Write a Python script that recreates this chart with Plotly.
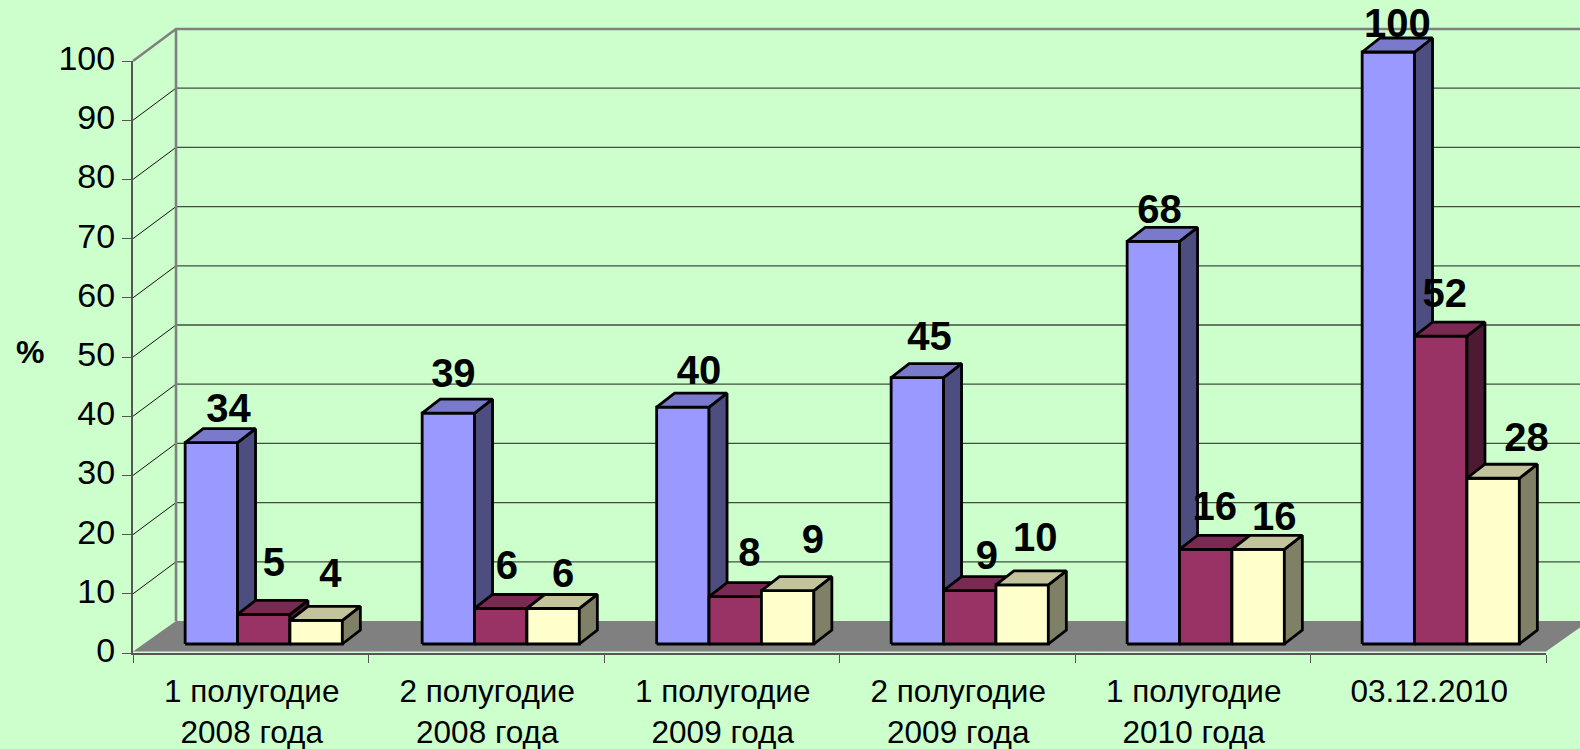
import plotly.graph_objects as go

W, H = 1580, 749
categories = ["1 полугодие<br>2008 года", "2 полугодие<br>2008 года", "1 полугодие<br>2009 года",
              "2 полугодие<br>2009 года", "1 полугодие<br>2010 года", "03.12.2010"]
series_a = [34, 39, 40, 45, 68, 100]
series_b = [5, 6, 8, 9, 16, 52]
series_c = [4, 6, 9, 10, 16, 28]
y_ticks = list(range(0, 101, 10))

# hand-placed label nudges in the reference (px from the top centre of each bar's front face)
label_dx_a = [17, 5, 16, 12, 6, 9]
label_dy_a = [30, 36, 33, 37, 28, 25]
label_dx_b = [10, 6, 14, 17, 9, 4]
label_dy_b = [48, 39, 40, 31, 39, 39]
label_dx_c = [14, 10, 25, 13, 16, 33]
label_dy_c = [43, 31, 47, 43, 29, 37]
group_nudge = [1, 2.5, 1.5, 0.5, 1, 0.5]

X0, X1, Y0, Y100 = 133, 1546, 653, 61
CW = (X1 - X0) / 6
VU = (Y0 - Y100) / 100
def px_x(p): return p / CW
def px_y(p): return p / VU

WALL_X, WALL_Y = px_x(43), px_y(32)
FRONT_X, FRONT_Y = px_x(12), px_y(9)
DEPTH_X, DEPTH_Y = px_x(18), px_y(14)
BAR_W = px_x(52.4)
RIGHT = (W - X0) / CW

BG = "#CCFFCC"
EDGE = 2.8
STYLES = [("#9999FF", "#4D4D80", "#7A7ACC"), ("#993366", "#4D1A33", "#7A2952"), ("#FFFFCC", "#808066", "#C4C49C")]

fig = go.Figure()

def poly(xs, ys, fill, line=None, width=0):
    fig.add_trace(go.Scatter(x=xs, y=ys, xaxis="x2", yaxis="y2", mode="lines", fill="toself" if fill else None,
                             fillcolor=fill, line=dict(color=line or "rgba(0,0,0,0)", width=width),
                             hoverinfo="skip", showlegend=False))

# anchor trace for the real axes
fig.add_trace(go.Bar(x=categories, y=[0] * 6, showlegend=False, hoverinfo="skip", marker_color="rgba(0,0,0,0)"))

# back wall
for v in y_ticks[1:-1]:
    poly([0, WALL_X], [v, v + WALL_Y], None, "#111111", 1)
    poly([WALL_X, RIGHT], [v + WALL_Y, v + WALL_Y], None, "#3F4F3F", 1.3)
poly([0, WALL_X, RIGHT], [100, 100 + WALL_Y, 100 + WALL_Y], None, "#808080", 2.6)
poly([WALL_X, WALL_X], [WALL_Y, 100 + WALL_Y], None, "#808080", 2.6)
# floor
poly([0.0, WALL_X, 6 + WALL_X, 6, 0.0], [0.25, WALL_Y, WALL_Y, 0.25, 0.25], "#808080")

# bars
label_x, label_y, label_t = [], [], []
all_series = [series_a, series_b, series_c]
all_dx = [label_dx_a, label_dx_b, label_dx_c]
all_dy = [label_dy_a, label_dy_b, label_dy_c]
for i in range(6):
    left0 = i + 0.5 + FRONT_X - 1.5 * BAR_W + px_x(group_nudge[i])
    for s, vals in enumerate(all_series):
        v = vals[i]
        l = left0 + s * BAR_W
        r = l + BAR_W
        b = FRONT_Y
        t = FRONT_Y + v
        front, side, top = STYLES[s]
        poly([l, r, r, l, l], [b, b, t, t, b], front, "#000000", EDGE)
        poly([r, r + DEPTH_X, r + DEPTH_X, r, r], [b, b + DEPTH_Y, t + DEPTH_Y, t, b], side, "#000000", EDGE)
        poly([l, r, r + DEPTH_X, l + DEPTH_X, l], [t, t, t + DEPTH_Y, t + DEPTH_Y, t], top, "#000000", EDGE)
        label_x.append(l + BAR_W / 2 + px_x(all_dx[s][i] * 1.008))
        label_y.append(t + px_y(all_dy[s][i] * 1.008))
        label_t.append(str(v))

fig.add_trace(go.Scatter(x=label_x, y=label_y, text=label_t, xaxis="x2", yaxis="y2", mode="text",
                         textposition="middle center", hoverinfo="skip", showlegend=False,
                         textfont=dict(family="Liberation Sans", size=40, color="#000000", weight="bold")))

axis_color = "#555555"
fig.update_layout(
    width=W, height=H, autosize=False, margin=dict(l=0, r=0, t=0, b=0),
    paper_bgcolor=BG, plot_bgcolor="rgba(0,0,0,0)", showlegend=False,
    font=dict(family="Liberation Sans", color="#000000"),
    xaxis=dict(type="category", categoryorder="array", categoryarray=categories, domain=[X0 / W, X1 / W],
               range=[-0.5, 5.5], tickson="boundaries",
               ticks="outside", ticklen=8, tickcolor=axis_color, tickwidth=1.2, automargin=False,
               showline=True, linecolor=axis_color, linewidth=2, showgrid=False, zeroline=False,
               tickfont=dict(size=31.5), ticklabelstandoff=9, ticklabelshift=1, anchor="y", tickangle=0),
    yaxis=dict(range=[0, 100], domain=[(H - Y0) / H, (H - Y100) / H], tickvals=y_ticks, ticks="outside", ticklen=9,
               tickcolor=axis_color, tickwidth=1.2, showline=True, linecolor=axis_color, linewidth=2, automargin=False,
               showgrid=False, zeroline=False, tickfont=dict(size=34), anchor="x", ticklabelshift=-3),
    xaxis2=dict(domain=[0, 1], range=[-X0 / CW, (W - X0) / CW], visible=False, anchor="y2", automargin=False),
    yaxis2=dict(domain=[0, 1], range=[(Y0 - H) / VU, Y0 / VU], visible=False, anchor="x2", automargin=False),
    annotations=[dict(text="<b>%</b>", xref="x2", yref="y2", x=px_x(30 - X0), y=px_y(Y0 - 352), showarrow=False,
                      font=dict(size=32, color="#000000", family="Liberation Sans"))],
)
fig.write_html("out.html", config=dict(displayModeBar=False),
               post_script="document.body.style.margin='0';document.body.style.overflow='hidden';")
